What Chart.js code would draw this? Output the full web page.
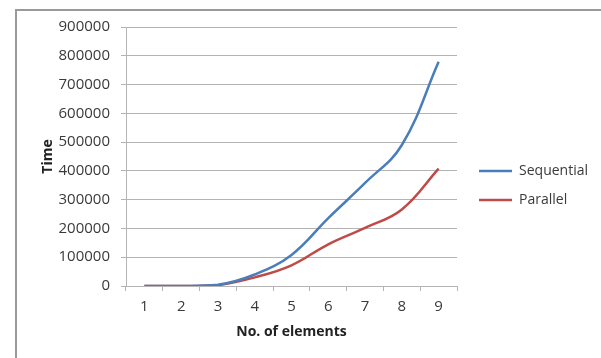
<!DOCTYPE html>
<html>
<head>
<meta charset="utf-8">
<script src="https://cdn.jsdelivr.net/npm/chart.js@4.4.1/dist/chart.umd.min.js"></script>
<style>
  body { margin: 0; background: #fff; }
  #frame { position: absolute; left: 15px; top: 9px; width: 640px; height: 400px; border: 2px solid #9a9a9a; }
  #wrap { position: absolute; left: 0; top: 0; width: 601px; height: 358px; }
</style>
</head>
<body>
<div id="frame"></div>
<div id="wrap"><canvas id="myChart"></canvas></div>
<script>
var labels = ['1', '2', '3', '4', '5', '6', '7', '8', '9'];
var sequential = [0, 0, 4000, 40000, 108000, 236000, 358000, 490000, 779000];
var parallel = [0, 0, 3000, 30000, 72000, 145000, 202000, 266000, 408000];
var yTicks = [0, 100000, 200000, 300000, 400000, 500000, 600000, 700000, 800000, 900000];

var fontFamily = '"Open Sans", sans-serif';
var textColor = '#3a3a3a';
var gridColor = '#b4b4b4';

// nudge the legend away from the plot, like the Excel layout
var legendShift = {
    id: 'legendShift',
    afterLayout: function (chart) {
        chart.legend.left += 7;
        chart.legend.right += 7;
        chart.legend.top += 2;
        chart.legend.bottom += 2;
    }
};

var ctx = document.getElementById('myChart').getContext('2d');
var chart = new Chart(ctx, {
    type: 'line',
    data: {
        labels: labels,
        datasets: [
            {
                label: 'Sequential',
                data: sequential,
                borderColor: '#4a7ebb',
                backgroundColor: '#4a7ebb',
                borderWidth: 2.5,
                pointRadius: 0,
                tension: 0.4
            },
            {
                label: 'Parallel',
                data: parallel,
                borderColor: '#be4b48',
                backgroundColor: '#be4b48',
                borderWidth: 2.5,
                pointRadius: 0,
                tension: 0.4
            }
        ]
    },
    options: {
        responsive: true,
        maintainAspectRatio: false,
        animation: false,
        layout: { padding: { left: 38, top: 27, right: 10, bottom: 18 } },
        plugins: {
            legend: {
                position: 'right',
                labels: {
                    usePointStyle: true,
                    pointStyle: 'line',
                    pointStyleWidth: 33,
                    padding: 15,
                    color: textColor,
                    font: { family: fontFamily, size: 14 }
                }
            },
            tooltip: { enabled: false }
        },
        scales: {
            x: {
                offset: true,
                afterFit: function (axis) { axis.height = 54; },
                grid: { offset: true, drawOnChartArea: false, drawTicks: true, tickLength: 5, color: gridColor },
                border: { color: gridColor, width: 1 },
                ticks: { color: textColor, font: { family: fontFamily, size: 15 }, padding: 7 },
                title: { display: true, text: 'No. of elements', color: '#222', font: { family: fontFamily, size: 14, weight: 'bold' }, padding: { top: 0, bottom: 0 } }
            },
            y: {
                min: 0,
                max: 900000,
                afterBuildTicks: function (axis) {
                    axis.ticks = yTicks.map(function (v) { return { value: v }; });
                },
                afterFit: function (axis) { axis.width = 88; },
                grid: { tickLength: 5, color: gridColor },
                border: { color: gridColor, width: 1 },
                ticks: {
                    color: textColor,
                    font: { family: fontFamily, size: 15 },
                    padding: 11,
                    callback: function (v) { return String(v); }
                },
                title: { display: true, text: 'Time', color: '#222', font: { family: fontFamily, size: 14, weight: 'bold' }, padding: { top: 2, bottom: 2 } }
            }
        }
    },
    plugins: [legendShift]
});
</script>
</body>
</html>
